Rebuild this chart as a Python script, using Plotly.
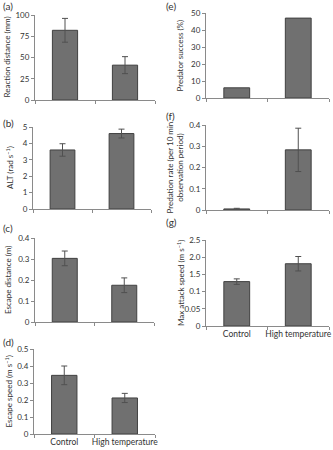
import plotly.graph_objects as go

W, H = 333, 450
categories = ["Control", "High temperature"]

# panel values
reaction_distance = [82, 41]
reaction_distance_err = [14, 10]
alt = [3.6, 4.6]
alt_err = [0.38, 0.27]
escape_distance = [0.303, 0.175]
escape_distance_err = [0.035, 0.035]
escape_speed = [0.345, 0.212]
escape_speed_err = [0.055, 0.027]
predator_success = [6, 47]
predation_rate = [0.005, 0.283]
predation_rate_err = [0.003, 0.102]
max_attack_speed = [1.29, 1.81]
max_attack_speed_err = [0.08, 0.21]

g_tickvals = [0, 0.5, 1.0, 1.5, 2.0, 2.5]
g_ticktext = ["0", "0.05", "0.1", "1.5", "2.0", "2.5"]

FONT = "Lato, Open Sans, sans-serif"
TXT = "#333333"
BAR = "#707070"
EDGE = "#404040"
AX = "#8a8a8a"

panels = [
    dict(lab="(a)", v=reaction_distance, e=reaction_distance_err, t="Reaction distance (mm)",
         r=[0, 100], tv=[0, 25, 50, 75, 100], tt=None, box=(35, 155, 15, 100), xl=False, tx=7, lp=(1, 6)),
    dict(lab="(b)", v=alt, e=alt_err, t="ALT (rad s<sup>−1</sup>)",
         r=[0, 5], tv=[0, 1, 2, 3, 4, 5], tt=None, box=(33, 151, 127, 209), xl=False, tx=10, lp=(1, 123)),
    dict(lab="(c)", v=escape_distance, e=escape_distance_err, t="Escape distance (m)",
         r=[0, 0.4], tv=[0, 0.1, 0.2, 0.3, 0.4], tt=None, box=(35, 154, 238, 322), xl=False, tx=8, lp=(1, 228)),
    dict(lab="(d)", v=escape_speed, e=escape_speed_err, t="Escape speed (m s<sup>−1</sup>)",
         r=[0, 0.5], tv=[0, 0.1, 0.2, 0.3, 0.4, 0.5], tt=None, box=(34, 155, 349, 434), xl=True, tx=8, lp=(1, 342)),
    dict(lab="(e)", v=predator_success, e=None, t="Predator success (%)",
         r=[0, 50], tv=[0, 10, 20, 30, 40, 50], tt=None, box=(206, 329, 13, 98), xl=False, tx=180, lp=(164, 6)),
    dict(lab="(f)", v=predation_rate, e=predation_rate_err, t="Predation rate (per 10 min<br>observation period)",
         r=[0, 0.4], tv=[0, 0.1, 0.2, 0.3, 0.4], tt=None, box=(206, 329, 125, 210), xl=False, tx=174, lp=(164, 116)),
    dict(lab="(g)", v=max_attack_speed, e=max_attack_speed_err, t="Max attack speed (m s<sup>−1</sup>)",
         r=[0, 2.5], tv=g_tickvals, tt=g_ticktext, box=(206, 329, 240, 326), xl=True, tx=180, lp=(164, 222)),
]

fig = go.Figure()
annotations = []
for i, p in enumerate(panels, start=1):
    sfx = "" if i == 1 else str(i)
    x0, x1, yt, yb = p["box"]
    err = None
    if p["e"] is not None:
        err = dict(type="data", array=p["e"], color="#505050", thickness=1, width=3)
    fig.add_trace(go.Bar(
        x=categories, y=p["v"], error_y=err,
        marker=dict(color=BAR, line=dict(color=EDGE, width=1)),
        width=0.42, xaxis="x" + sfx, yaxis="y" + sfx, showlegend=False,
    ))
    fig.layout["xaxis" + sfx] = dict(
        domain=[x0 / W, x1 / W], anchor="y" + sfx, type="category",
        showline=True, linecolor=AX, linewidth=1, ticks="outside", tickson="boundaries",
        ticklen=3, tickcolor=AX, showgrid=False, showticklabels=p["xl"], tickangle=0,
        tickfont=dict(family=FONT, size=8.5, color=TXT), range=[-0.5, 1.5], automargin=False,
    )
    yax = dict(
        domain=[1 - yb / H, 1 - yt / H], anchor="x" + sfx, range=p["r"],
        showline=True, linecolor=AX, linewidth=1, ticks="outside", ticklen=3, tickcolor=AX,
        showgrid=False, zeroline=False, tickvals=p["tv"], automargin=False,
        tickfont=dict(family=FONT, size=8, color=TXT),
    )
    if p["tt"] is not None:
        yax["ticktext"] = p["tt"]
    fig.layout["yaxis" + sfx] = yax
    annotations.append(dict(
        text=p["t"], textangle=-90, x=p["tx"] / W, y=1 - (yt + yb) / 2 / H,
        xref="paper", yref="paper", xanchor="center", yanchor="middle", showarrow=False,
        font=dict(family=FONT, size=8, color=TXT),
    ))
    annotations.append(dict(
        text=p["lab"], x=p["lp"][0] / W, y=1 - p["lp"][1] / H, xref="paper", yref="paper",
        xanchor="left", yanchor="middle", showarrow=False,
        font=dict(family=FONT, size=10, color=TXT),
    ))

fig.update_layout(
    width=W, height=H, margin=dict(l=0, r=0, t=0, b=0),
    plot_bgcolor="white", paper_bgcolor="white", annotations=annotations,
)
fig.write_html("out.html")
